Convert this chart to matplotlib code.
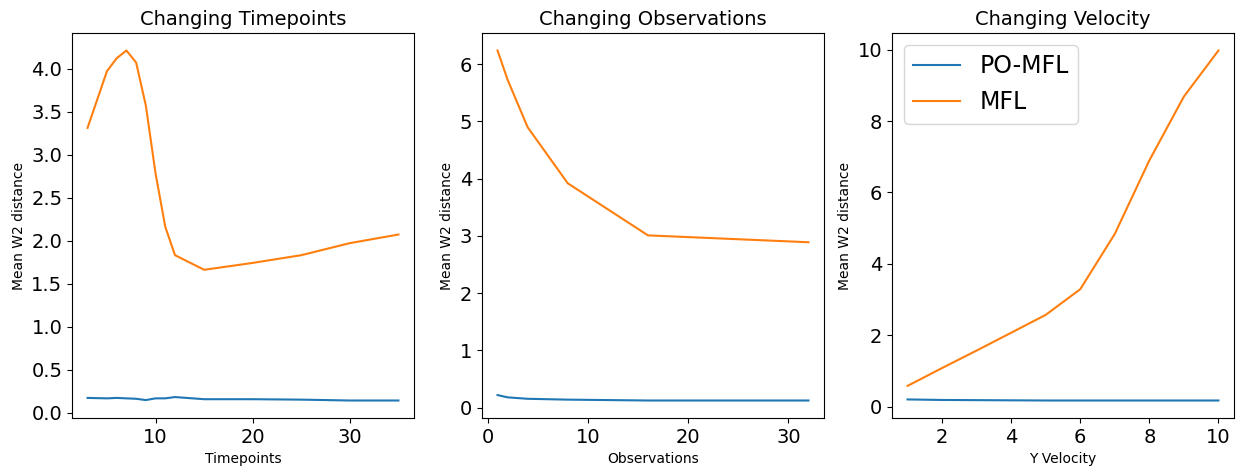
import matplotlib
matplotlib.use("Agg")
import matplotlib.pyplot as plt

# Panel 1: changing timepoints
tp_x = [3, 5, 6, 7, 8, 9, 10, 11, 12, 15, 20, 25, 30, 35]
tp_pomfl = [0.17, 0.165, 0.17, 0.165, 0.16, 0.145, 0.165, 0.165, 0.18, 0.155, 0.155, 0.15, 0.14, 0.14]
tp_mfl = [3.31, 3.97, 4.12, 4.21, 4.07, 3.57, 2.78, 2.16, 1.83, 1.66, 1.74, 1.83, 1.97, 2.07]

# Panel 2: changing observations
ob_x = [1, 2, 4, 8, 16, 32]
ob_pomfl = [0.22, 0.18, 0.155, 0.14, 0.125, 0.125]
ob_mfl = [6.24, 5.73, 4.90, 3.92, 3.01, 2.89]

# Panel 3: changing velocity
vel_x = [1, 2, 3, 4, 5, 6, 7, 8, 9, 10]
vel_pomfl = [0.20, 0.185, 0.18, 0.175, 0.17, 0.17, 0.17, 0.17, 0.17, 0.17]
vel_mfl = [0.58, 1.08, 1.57, 2.07, 2.57, 3.29, 4.84, 6.90, 8.69, 9.98]

titles = ["Changing Timepoints", "Changing Observations", "Changing Velocity"]
xlabels = ["Timepoints", "Observations", "Y Velocity"]
series_labels = ["PO-MFL", "MFL"]

W, H = 1243, 476
fig = plt.figure(figsize=(W / 100, H / 100), dpi=100)
lefts = [72, 482, 892]
axw, axh = 342, 385
top = 33

data = [(tp_x, tp_pomfl, tp_mfl), (ob_x, ob_pomfl, ob_mfl), (vel_x, vel_pomfl, vel_mfl)]
for i, (x, p, m) in enumerate(data):
    ax = fig.add_axes([lefts[i] / W, (H - top - axh) / H, axw / W, axh / H])
    ax.plot(x, p, color="#1f77b4", label=series_labels[0])
    ax.plot(x, m, color="#ff7f0e", label=series_labels[1])
    ax.set_title(titles[i], fontsize=14)
    ax.set_xlabel(xlabels[i], fontsize=10)
    ax.set_ylabel("Mean W2 distance", fontsize=10)
    ax.tick_params(labelsize=14)
    if i == 2:
        ax.legend(fontsize=17, loc="upper left")

fig.savefig("out.png", dpi=100)
